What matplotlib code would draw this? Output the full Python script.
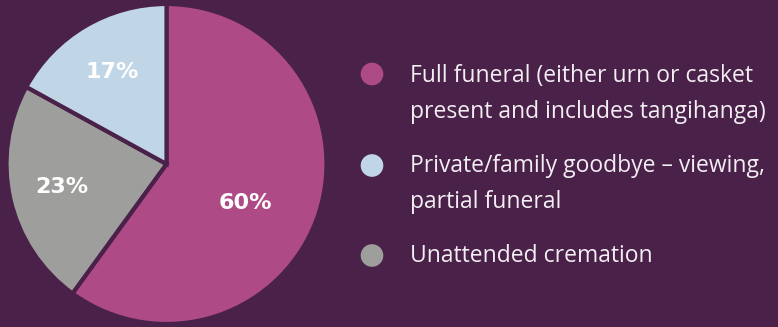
import numpy as np
import matplotlib
matplotlib.use("Agg")
import matplotlib.pyplot as plt

categories = [
    ["Full funeral (either urn or casket", "present and includes tangihanga)"],
    ["Private/family goodbye \u2013 viewing,", "partial funeral"],
    ["Unattended cremation"],
]
# slice order around the pie (clockwise from 12 o'clock)
slice_labels = ["Full funeral", "Unattended cremation", "Private/family goodbye"]
slice_values = [60, 23, 17]
slice_colors = ["#ae4a86", "#9e9e9c", "#c0d6e6"]
legend_colors = ["#ae4a86", "#c0d6e6", "#9e9e9c"]

bg = "#4a2149"
text_col = "#f3eef3"

W, H = 778, 327
fig = plt.figure(figsize=(W / 100, H / 100), dpi=100, facecolor=bg)

# pie axes, centred at (166.5, 164) px with radius 160 px
cx, cy, r = 166.5, 164, 160
ax = fig.add_axes([(cx - r) / W, (H - cy - r) / H, 2 * r / W, 2 * r / H])
ax.set_facecolor(bg)
wedges, texts, autotexts = ax.pie(
    slice_values,
    colors=slice_colors,
    startangle=90,
    counterclock=False,
    autopct="%d%%",
    pctdistance=0.67,
    wedgeprops=dict(edgecolor=bg, linewidth=3),
    textprops=dict(color="white", fontsize=16, fontweight="bold",
                   family="DejaVu Sans"),
)
# nudge the large-slice label toward the centre
ang = np.deg2rad(-26)
autotexts[0].set_position((0.55 * np.cos(ang), 0.55 * np.sin(ang)))
ax.set_xlim(-1.0, 1.0)
ax.set_ylim(-1.0, 1.0)
ax.set_aspect("equal")
ax.axis("off")

# legend drawn in pixel coordinates
lax = fig.add_axes([0, 0, 1, 1])
lax.set_xlim(0, W)
lax.set_ylim(H, 0)
lax.axis("off")
lax.patch.set_alpha(0)

marker_y = [74, 165.5, 255.5]
first_baseline = [82, 172, 262]
line_step = 36
for lines, col, my, by in zip(categories, legend_colors, marker_y, first_baseline):
    lax.scatter([372], [my], s=16.3 ** 2, color=col, edgecolors="none")
    for i, line in enumerate(lines):
        lax.text(410, by + i * line_step, line, color=text_col, fontsize=16.5,
                 family="Open Sans", va="baseline", ha="left")

fig.savefig("out.png", dpi=100, facecolor=bg)
